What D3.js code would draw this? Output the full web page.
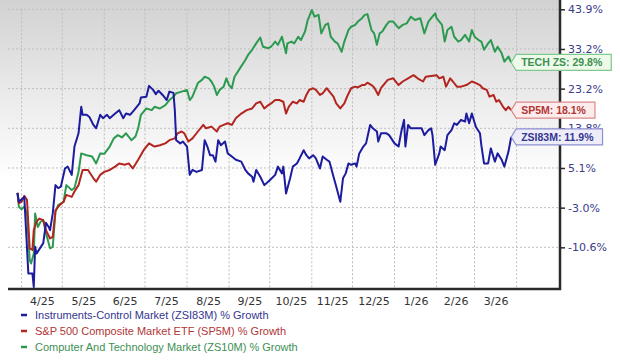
<!DOCTYPE html>
<html>
<head>
<meta charset="utf-8">
<script src="https://cdn.jsdelivr.net/npm/d3@7"></script>
<style>
  body { margin: 0; background: #fff; }
  svg { display: block; }
</style>
</head>
<body>
<div id="chart"></div>
<script>
// right axis ticks (% growth) and month labels
const yTicks = [-10.6, -3.0, 5.1, 13.8, 23.2, 33.2, 43.9];
const monthStarts = ["2025-04-01", "2025-05-01", "2025-06-01", "2025-07-01", "2025-08-01", "2025-09-01",
    "2025-10-01", "2025-11-01", "2025-12-01", "2026-01-01", "2026-02-01", "2026-03-01", "2026-04-01"];
const monthLabels = ["4/25", "5/25", "6/25", "7/25", "8/25", "9/25", "10/25", "11/25", "12/25", "1/26", "2/26", "3/26"];

const legendLabels = [
    "Instruments-Control Market (ZSI83M) % Growth",
    "S&P 500 Composite Market ETF (SP5M) % Growth",
    "Computer And Technology Market (ZS10M) % Growth"
];
const endLabels = ["ZSI83M", "SP5M", "TECH ZS"];

// Instruments-Control Market (ZSI83M)
const instrumentsData = [["2025-03-29",0.0],["2025-03-30",-1.8],["2025-04-03",-0.8],["2025-04-06",-15.6],["2025-04-09",-15.6],["2025-04-10",-18.2],["2025-04-11",-10.5],["2025-04-12",-11.8],["2025-04-17",-9.8],["2025-04-19",-5.9],["2025-04-21",-6.7],["2025-04-22",-7.3],["2025-04-24",-4.1],["2025-04-26",1.6],["2025-04-28",1.0],["2025-04-30",1.3],["2025-05-03",5.0],["2025-05-05",5.4],["2025-05-08",3.7],["2025-05-10",9.8],["2025-05-13",12.7],["2025-05-15",18.9],["2025-05-16",17.0],["2025-05-19",17.0],["2025-05-21",16.5],["2025-05-24",14.6],["2025-05-26",13.8],["2025-05-29",17.0],["2025-05-31",16.2],["2025-06-03",17.0],["2025-06-05",16.2],["2025-06-09",17.3],["2025-06-12",18.1],["2025-06-15",16.2],["2025-06-17",17.3],["2025-06-20",17.0],["2025-06-23",18.1],["2025-06-27",19.7],["2025-06-28",21.1],["2025-07-02",21.3],["2025-07-04",23.9],["2025-07-07",22.9],["2025-07-09",21.9],["2025-07-11",22.7],["2025-07-14",21.7],["2025-07-17",20.5],["2025-07-19",22.5],["2025-07-22",22.2],["2025-07-23",18.1],["2025-07-24",11.2],["2025-07-27",10.5],["2025-07-29",10.9],["2025-08-01",9.8],["2025-08-03",3.7],["2025-08-05",4.7],["2025-08-08",4.3],["2025-08-12",4.7],["2025-08-14",11.2],["2025-08-16",9.8],["2025-08-18",7.9],["2025-08-20",7.9],["2025-08-22",6.5],["2025-08-24",11.2],["2025-08-26",10.1],["2025-08-29",10.9],["2025-08-31",8.3],["2025-09-03",7.6],["2025-09-06",6.9],["2025-09-10",6.5],["2025-09-13",4.7],["2025-09-15",4.0],["2025-09-18",3.3],["2025-09-19",2.3],["2025-09-21",4.7],["2025-09-24",3.3],["2025-09-27",1.6],["2025-10-01",2.6],["2025-10-05",3.7],["2025-10-07",5.4],["2025-10-10",4.0],["2025-10-11",5.4],["2025-10-13",-0.1],["2025-10-16",3.0],["2025-10-18",5.4],["2025-10-21",6.1],["2025-10-23",7.2],["2025-10-26",9.0],["2025-10-28",7.9],["2025-10-30",7.2],["2025-11-02",7.9],["2025-11-04",7.2],["2025-11-07",5.0],["2025-11-09",7.6],["2025-11-12",6.9],["2025-11-14",6.5],["2025-11-17",3.3],["2025-11-19",1.3],["2025-11-22",-1.8],["2025-11-24",3.0],["2025-11-26",4.0],["2025-11-28",6.1],["2025-11-30",5.8],["2025-12-03",6.1],["2025-12-04",5.4],["2025-12-06",8.3],["2025-12-09",9.8],["2025-12-11",10.5],["2025-12-14",14.6],["2025-12-16",13.8],["2025-12-19",13.1],["2025-12-20",10.9],["2025-12-22",12.7],["2025-12-26",12.7],["2025-12-28",12.3],["2026-01-01",10.5],["2026-01-04",9.8],["2026-01-06",13.1],["2026-01-08",15.8],["2026-01-09",9.8],["2026-01-11",14.6],["2026-01-13",13.8],["2026-01-17",13.8],["2026-01-21",13.8],["2026-01-23",12.3],["2026-01-26",13.4],["2026-01-28",13.8],["2026-01-29",12.3],["2026-01-31",5.8],["2026-02-03",8.3],["2026-02-04",9.8],["2026-02-07",9.0],["2026-02-09",12.3],["2026-02-12",13.4],["2026-02-14",15.0],["2026-02-16",14.6],["2026-02-19",15.8],["2026-02-22",15.4],["2026-02-23",17.3],["2026-02-25",15.0],["2026-02-27",17.3],["2026-03-02",14.1],["2026-03-05",12.7],["2026-03-06",10.1],["2026-03-08",6.1],["2026-03-11",6.1],["2026-03-13",9.4],["2026-03-16",6.5],["2026-03-18",8.3],["2026-03-21",6.9],["2026-03-23",5.4],["2026-03-26",8.7],["2026-03-28",11.9]];

// S&P 500 Composite Market ETF (SP5M)
const sp500Data = [["2025-03-29",0.0],["2025-03-30",-2.1],["2025-04-01",-1.8],["2025-04-03",-0.6],["2025-04-05",-1.4],["2025-04-07",-10.8],["2025-04-09",-11.1],["2025-04-10",-7.3],["2025-04-12",-5.7],["2025-04-14",-5.1],["2025-04-17",-5.4],["2025-04-19",-7.3],["2025-04-22",-8.9],["2025-04-24",-8.6],["2025-04-26",-3.5],["2025-04-29",-2.5],["2025-05-02",-1.8],["2025-05-04",-0.4],["2025-05-08",-0.8],["2025-05-10",0.3],["2025-05-13",1.6],["2025-05-16",4.7],["2025-05-20",4.7],["2025-05-24",3.0],["2025-05-26",2.3],["2025-05-29",3.7],["2025-06-01",4.3],["2025-06-05",4.7],["2025-06-09",5.4],["2025-06-12",6.1],["2025-06-16",5.8],["2025-06-19",6.1],["2025-06-22",5.0],["2025-06-26",6.9],["2025-06-30",9.0],["2025-07-04",10.5],["2025-07-08",9.8],["2025-07-12",10.1],["2025-07-16",10.5],["2025-07-19",11.2],["2025-07-23",11.6],["2025-07-25",12.7],["2025-07-28",13.1],["2025-07-30",12.7],["2025-08-02",10.9],["2025-08-05",11.6],["2025-08-09",13.1],["2025-08-13",14.6],["2025-08-15",13.8],["2025-08-19",14.2],["2025-08-23",13.1],["2025-08-25",14.2],["2025-08-28",14.6],["2025-08-31",15.0],["2025-09-03",14.6],["2025-09-06",16.2],["2025-09-10",17.3],["2025-09-14",18.1],["2025-09-18",18.5],["2025-09-21",19.7],["2025-09-24",20.1],["2025-09-27",18.5],["2025-09-30",19.3],["2025-10-02",19.7],["2025-10-05",20.5],["2025-10-08",20.5],["2025-10-11",20.1],["2025-10-13",17.3],["2025-10-15",18.9],["2025-10-18",20.1],["2025-10-21",19.7],["2025-10-23",20.5],["2025-10-26",20.1],["2025-10-28",21.7],["2025-10-30",22.9],["2025-11-02",23.3],["2025-11-04",22.9],["2025-11-07",21.7],["2025-11-09",22.1],["2025-11-12",23.3],["2025-11-14",22.5],["2025-11-17",21.3],["2025-11-19",19.7],["2025-11-22",18.5],["2025-11-25",19.7],["2025-11-27",21.3],["2025-11-30",23.3],["2025-12-03",23.7],["2025-12-05",23.5],["2025-12-08",24.1],["2025-12-10",24.1],["2025-12-12",24.7],["2025-12-15",24.1],["2025-12-17",23.5],["2025-12-20",21.7],["2025-12-22",23.3],["2025-12-25",24.6],["2025-12-27",25.4],["2025-12-31",25.8],["2026-01-04",24.1],["2026-01-07",25.0],["2026-01-11",25.8],["2026-01-15",26.6],["2026-01-18",25.8],["2026-01-22",25.0],["2026-01-24",26.2],["2026-01-28",26.4],["2026-02-01",26.6],["2026-02-03",25.8],["2026-02-06",26.2],["2026-02-08",23.7],["2026-02-11",25.8],["2026-02-13",25.0],["2026-02-16",23.7],["2026-02-19",23.7],["2026-02-23",24.1],["2026-02-27",25.0],["2026-03-02",24.6],["2026-03-05",24.1],["2026-03-07",23.3],["2026-03-10",22.9],["2026-03-12",21.3],["2026-03-15",21.7],["2026-03-17",20.1],["2026-03-19",20.5],["2026-03-22",18.9],["2026-03-24",18.1],["2026-03-26",18.9],["2026-03-28",18.1]];

// Computer And Technology Market (ZS10M)
const techData = [["2025-03-29",0.0],["2025-03-30",-2.8],["2025-04-01",-3.3],["2025-04-03",-2.8],["2025-04-05",-4.1],["2025-04-07",-13.0],["2025-04-08",-13.7],["2025-04-10",-11.8],["2025-04-11",-4.1],["2025-04-13",-6.7],["2025-04-15",-5.7],["2025-04-17",-5.4],["2025-04-19",-7.9],["2025-04-22",-10.8],["2025-04-24",-10.5],["2025-04-26",-3.8],["2025-04-28",-2.5],["2025-05-02",-1.8],["2025-05-04",1.6],["2025-05-08",0.6],["2025-05-10",1.0],["2025-05-13",4.3],["2025-05-15",8.3],["2025-05-19",7.9],["2025-05-23",7.6],["2025-05-26",6.1],["2025-05-29",8.3],["2025-06-01",8.2],["2025-06-05",9.8],["2025-06-08",11.6],["2025-06-11",12.3],["2025-06-14",11.8],["2025-06-17",12.7],["2025-06-21",11.2],["2025-06-24",12.0],["2025-06-26",13.8],["2025-06-28",17.0],["2025-07-02",18.5],["2025-07-06",18.1],["2025-07-08",18.9],["2025-07-12",18.5],["2025-07-16",19.3],["2025-07-19",20.5],["2025-07-22",21.3],["2025-07-24",22.1],["2025-07-28",22.5],["2025-08-01",22.9],["2025-08-03",20.5],["2025-08-05",21.3],["2025-08-09",24.6],["2025-08-12",25.4],["2025-08-14",26.2],["2025-08-17",25.8],["2025-08-19",25.0],["2025-08-21",23.7],["2025-08-23",21.7],["2025-08-25",22.9],["2025-08-28",23.7],["2025-08-30",25.8],["2025-09-01",24.1],["2025-09-03",23.3],["2025-09-05",26.2],["2025-09-09",28.3],["2025-09-13",30.4],["2025-09-15",31.7],["2025-09-18",33.0],["2025-09-21",34.7],["2025-09-24",36.3],["2025-09-26",33.8],["2025-09-30",33.4],["2025-10-02",33.8],["2025-10-05",35.2],["2025-10-07",34.3],["2025-10-10",36.5],["2025-10-13",32.1],["2025-10-14",34.7],["2025-10-17",35.2],["2025-10-19",34.7],["2025-10-22",36.5],["2025-10-24",35.6],["2025-10-27",37.9],["2025-10-29",41.0],["2025-11-01",43.7],["2025-11-03",41.9],["2025-11-06",42.4],["2025-11-08",37.4],["2025-11-11",39.7],["2025-11-13",40.1],["2025-11-15",36.5],["2025-11-18",35.2],["2025-11-20",34.7],["2025-11-23",32.5],["2025-11-25",35.2],["2025-11-28",38.3],["2025-11-30",39.2],["2025-12-03",39.7],["2025-12-05",40.6],["2025-12-08",41.5],["2025-12-10",42.4],["2025-12-12",42.6],["2025-12-15",38.3],["2025-12-17",37.4],["2025-12-19",34.3],["2025-12-21",37.4],["2025-12-23",37.9],["2025-12-26",39.7],["2025-12-28",40.6],["2025-12-31",40.6],["2026-01-04",38.8],["2026-01-07",39.7],["2026-01-10",40.1],["2026-01-13",41.9],["2026-01-16",41.0],["2026-01-20",41.5],["2026-01-23",37.4],["2026-01-26",40.6],["2026-01-28",41.5],["2026-01-31",42.8],["2026-02-01",41.5],["2026-02-05",39.7],["2026-02-07",35.2],["2026-02-09",38.3],["2026-02-12",39.2],["2026-02-14",36.5],["2026-02-17",35.2],["2026-02-19",35.6],["2026-02-22",37.0],["2026-02-25",35.2],["2026-02-27",38.3],["2026-03-01",36.5],["2026-03-04",35.6],["2026-03-06",35.2],["2026-03-08",33.0],["2026-03-11",34.7],["2026-03-13",35.6],["2026-03-16",32.5],["2026-03-18",33.8],["2026-03-21",32.1],["2026-03-23",30.0],["2026-03-26",31.3],["2026-03-28",29.8]];

// chart setup
const width = 620;
const height = 364;
const plotLeft = 8, plotRight = 560, plotTop = 0, plotBottom = 289;
const gridTop = 9.3, gridStep = 39.67;

const parseDate = d3.timeParse("%Y-%m-%d");

const series = [
    { data: instrumentsData, line: "#1c1c9e", text: "#35358f", fill: "#ededfa", border: "#8f8fd2", label: endLabels[0] },
    { data: sp500Data, line: "#b3251f", text: "#b13636", fill: "#fcecec", border: "#d98a8a", label: endLabels[1] },
    { data: techData, line: "#2c9a50", text: "#3d8f52", fill: "#eefae9", border: "#80c88e", label: endLabels[2] }
];

const svg = d3.select("#chart")
    .append("svg")
    .attr("width", width)
    .attr("height", height);

const x = d3.scaleTime()
    .domain([parseDate("2025-03-22"), parseDate("2026-05-03")])
    .range([plotLeft, plotRight]);

// grid rows are evenly spaced, labels are not -> piecewise scale through the ticks
const y = d3.scaleLinear()
    .domain(yTicks)
    .range(yTicks.map((d, i) => gridTop + (yTicks.length - 1 - i) * gridStep));

// background gradient
const defs = svg.append("defs");
const grad = defs.append("linearGradient")
    .attr("id", "bg")
    .attr("x1", 0).attr("y1", 0).attr("x2", 0).attr("y2", 1);
grad.append("stop").attr("offset", "0%").attr("stop-color", "#d2d2d2");
grad.append("stop").attr("offset", "35%").attr("stop-color", "#ececec");
grad.append("stop").attr("offset", "62%").attr("stop-color", "#ffffff");

svg.append("rect")
    .attr("x", 0)
    .attr("y", plotTop)
    .attr("width", plotRight)
    .attr("height", plotBottom - plotTop)
    .attr("fill", "url(#bg)");

// grid
const months = monthStarts.map(parseDate);
svg.append("g")
    .selectAll("line")
    .data(yTicks)
    .enter().append("line")
    .attr("x1", plotLeft)
    .attr("x2", plotRight)
    .attr("y1", d => y(d))
    .attr("y2", d => y(d))
    .attr("stroke", "#bdbdbd")
    .attr("stroke-dasharray", "2,2");

svg.append("g")
    .selectAll("line")
    .data(months)
    .enter().append("line")
    .attr("x1", d => x(d))
    .attr("x2", d => x(d))
    .attr("y1", gridTop)
    .attr("y2", plotBottom)
    .attr("stroke", "#bdbdbd")
    .attr("stroke-dasharray", "2,2");

// lines
const line = d3.line()
    .x(d => x(parseDate(d[0])))
    .y(d => y(d[1]));

svg.append("g")
    .selectAll("path")
    .data(series.slice().reverse())
    .enter().append("path")
    .attr("d", d => line(d.data))
    .attr("fill", "none")
    .attr("stroke", d => d.line)
    .attr("stroke-width", 2)
    .attr("stroke-linejoin", "round");

// frame: bottom + right axis lines
svg.append("path")
    .attr("d", `M${plotLeft},${plotBottom}H${plotRight}V${plotTop}`)
    .attr("fill", "none")
    .attr("stroke", "#2a2a2a")
    .attr("stroke-width", 2.5);

// right axis
const yAxis = d3.axisRight(y)
    .tickValues(yTicks)
    .tickFormat(d => d.toFixed(1) + "%")
    .tickSize(5)
    .tickPadding(3);

const yAxisG = svg.append("g")
    .attr("transform", `translate(${plotRight},0)`)
    .call(yAxis);
yAxisG.select(".domain").remove();
yAxisG.selectAll(".tick line").attr("stroke", "#2a2a2a").attr("stroke-width", 1.5);
yAxisG.selectAll(".tick text")
    .attr("fill", "#3b3b8c")
    .style("font", "11px 'DejaVu Sans', Verdana, sans-serif");

// bottom axis labels, centred in each month
const mids = monthLabels.map((d, i) => new Date((+months[i] + +months[i + 1]) / 2));
const xAxis = d3.axisBottom(x)
    .tickValues(mids)
    .tickFormat((d, i) => monthLabels[i])
    .tickSize(0)
    .tickPadding(8);

const xAxisG = svg.append("g")
    .attr("transform", `translate(0,${plotBottom})`)
    .call(xAxis);
xAxisG.select(".domain").remove();
xAxisG.selectAll(".tick text")
    .attr("fill", "#333")
    .style("font", "11px 'DejaVu Sans', Verdana, sans-serif");

// end-value callouts
series.forEach(function (s) {
    const last = s.data[s.data.length - 1];
    const ex = x(parseDate(last[0]));
    const ey = y(last[1]);
    const g = svg.append("g");
    const txt = g.append("text")
        .attr("x", ex + 10)
        .attr("y", ey)
        .attr("dy", "0.35em")
        .attr("fill", s.text)
        .style("font", "bold 10.5px 'Liberation Sans', Arial, sans-serif")
        .text(s.label + ": " + last[1].toFixed(1) + "%");
    const w = txt.node().getComputedTextLength() + 14;
    const h = 8;
    g.insert("path", "text")
        .attr("d", `M${ex},${ey}L${ex + 5},${ey - h}H${ex + 5 + w}V${ey + h}H${ex + 5}Z`)
        .attr("fill", s.fill)
        .attr("stroke", s.border)
        .attr("stroke-width", 1.2);
});

// legend
const legend = svg.append("g")
    .attr("class", "legend")
    .attr("transform", "translate(0, 315)");

const legendItems = legend.selectAll("g")
    .data(series)
    .enter().append("g")
    .attr("transform", (d, i) => `translate(0, ${i * 16})`);

legendItems.append("line")
    .attr("x1", 21)
    .attr("x2", 27)
    .attr("stroke", d => d.line)
    .attr("stroke-width", 2.5);

legendItems.append("text")
    .attr("x", 35)
    .attr("dy", "0.35em")
    .attr("fill", d => d.text)
    .style("font", "11px 'Liberation Sans', Arial, sans-serif")
    .text((d, i) => legendLabels[i]);
</script>
</body>
</html>
